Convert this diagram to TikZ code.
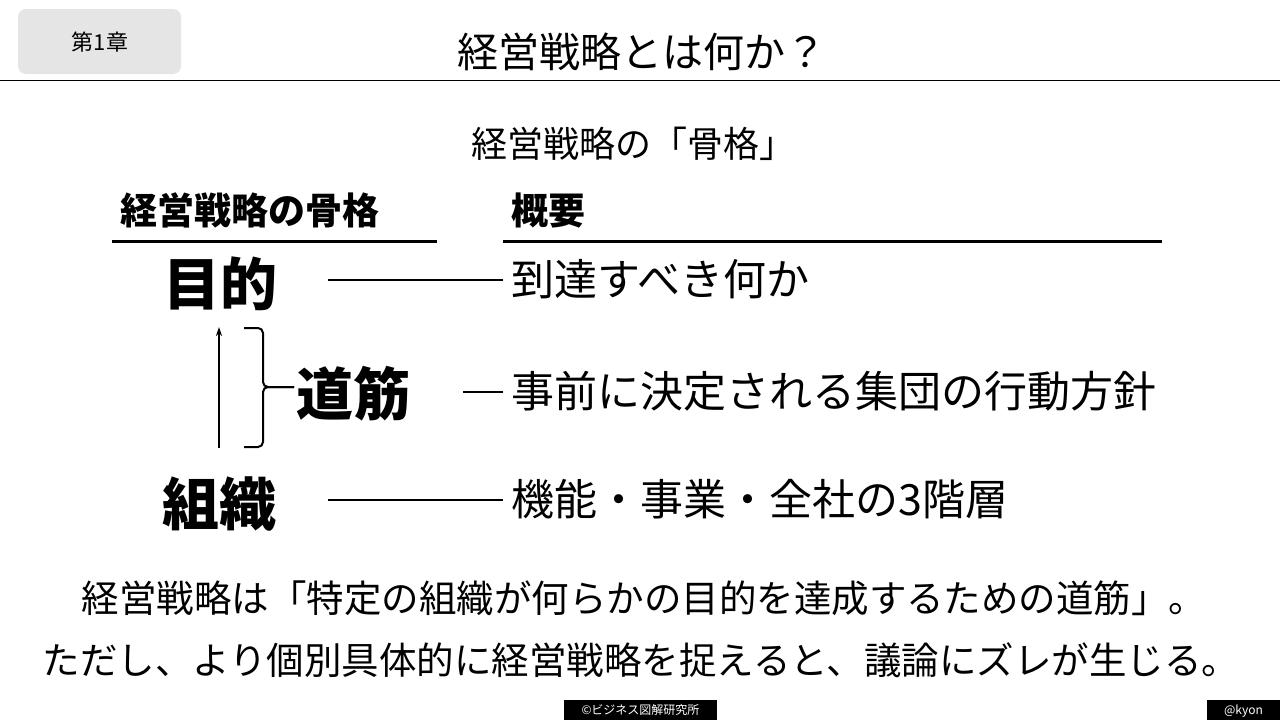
\documentclass[tikz,border=0pt]{standalone}
\usepackage{fontspec}
\setmainfont{Noto Sans CJK JP}
\usetikzlibrary{arrows.meta}
\tikzset{
  txt/.style={inner sep=0pt, anchor=base},
  ltxt/.style={inner sep=0pt, anchor=base west},
  conn/.style={line width=2.4pt},
  rule/.style={line width=2.6pt},
  brace/.style={line width=2pt, rounded corners=5pt},
}
\newcommand{\fs}[1]{\fontsize{#1}{#1}\selectfont}
\begin{document}
\begin{tikzpicture}[x=1pt,y=-1pt]
\useasboundingbox (0,0) rectangle (1280,720);
\fill[white] (0,0) rectangle (1280,720);
% chapter tab
\node[fill=black!10, rounded corners=8pt, minimum width=163pt, minimum height=65pt, inner sep=0pt] (tab) at (99.5,41.5) {};
\node[txt] (chap) at (100,50) {\fs{22}第1章};
\node[txt] (title) at (642,67) {\fs{41}経営戦略とは何か？};
\coordinate (hl) at (0,80.5);
\coordinate (hr) at (1280,80.5);
\draw[line width=1.4pt] (hl) -- (hr);
% subtitle
\node[txt] (sub) at (633,157) {\fs{36}経営戦略の「骨格」};
% column headers
\node[ltxt] (colA) at (120,224) {\fs{37}\bfseries 経営戦略の骨格};
\node[ltxt] (colB) at (511,224) {\fs{37}\bfseries 概要};
\coordinate (ua1) at (112,241.5);
\coordinate (ua2) at (437,241.5);
\coordinate (ub1) at (503,241.5);
\coordinate (ub2) at (1162,241.5);
\draw[rule] (ua1) -- (ua2);
\draw[rule] (ub1) -- (ub2);
% left items
\node[txt] (mokuteki) at (220,305) {\fs{57}\bfseries 目的};
\node[txt] (michi) at (353.5,415) {\fs{57}\bfseries 道筋};
\node[txt] (soshiki) at (219.5,525) {\fs{57}\bfseries 組織};
% right items
\node[ltxt] (d1) at (511,295) {\fs{43}到達すべき何か};
\node[ltxt] (d2) at (511,407) {\fs{43}事前に決定される集団の行動方針};
\node[ltxt] (d3) at (511,515) {\fs{43}機能・事業・全社の3階層};
% connectors
\coordinate (c1a) at (328,280);
\coordinate (c1b) at (503,280);
\coordinate (c2a) at (463,392);
\coordinate (c2b) at (503,392);
\coordinate (c3a) at (328,500);
\coordinate (c3b) at (503,500);
\draw[conn] (c1a) -- (c1b);
\draw[conn] (c2a) -- (c2b);
\draw[conn] (c3a) -- (c3b);
% arrow
\coordinate (arB) at (219,448);
\coordinate (arT) at (219,327);
\draw[line width=2pt, -{Stealth[length=9pt,width=6pt]}] (arB) -- (arT);
% brace
\coordinate (brT) at (244,328);
\coordinate (brB) at (244,447);
\coordinate (brTip) at (294,387);
\draw[brace] (brT) -- (263,328) -- (263,387) -- (brTip);
\draw[brace] (brB) -- (263,447) -- (263,387) -- (brTip);
% bottom text
\node[txt] (b1) at (644,612) {\fs{37.5}経営戦略は「特定の組織が何らかの目的を達成するための道筋」。};
\node[txt] (b2) at (641,674) {\fs{37.5}ただし、より個別具体的に経営戦略を捉えると、議論にズレが生じる。};
% footer
\node[fill=black, minimum width=153pt, minimum height=20pt, inner sep=0pt] (f1) at (640.5,710) {};
\node[txt, text=white] (f1t) at (640.5,714.5) {\fs{12}©ビジネス図解研究所};
\node[fill=black, minimum width=73pt, minimum height=20pt, inner sep=0pt] (f2) at (1243.5,710) {};
\node[txt, text=white] (f2t) at (1243.5,714.5) {\fs{12}@kyon};
\end{tikzpicture}
\end{document}
